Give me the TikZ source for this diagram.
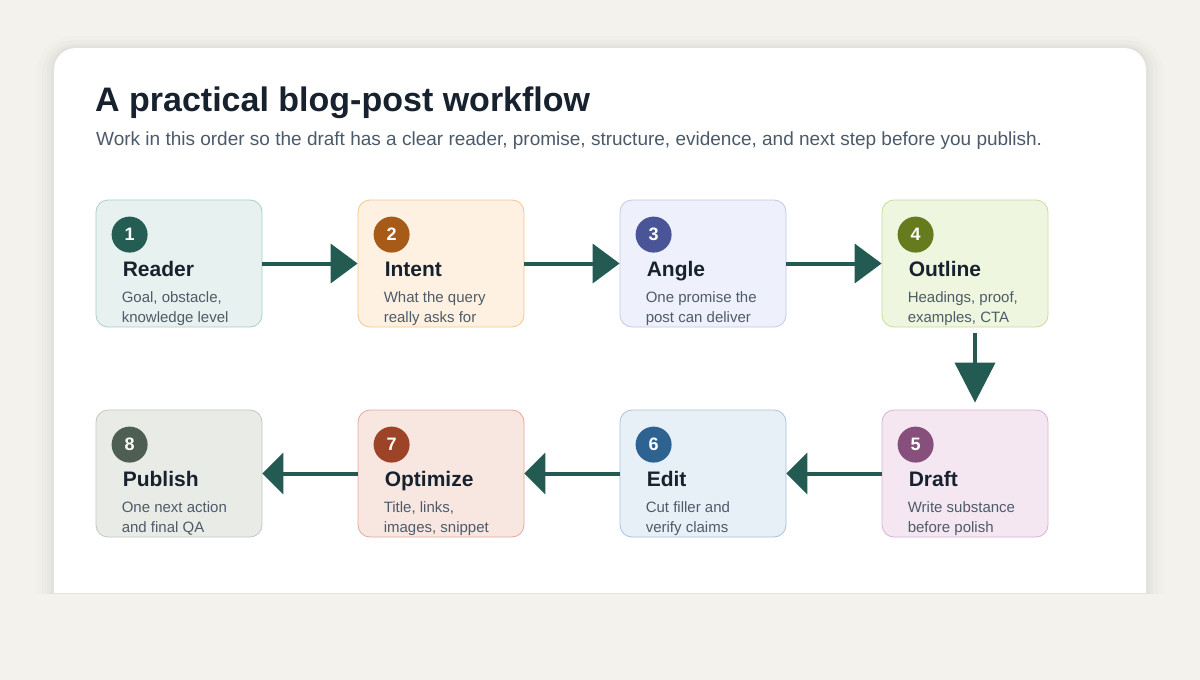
\documentclass[tikz,border=0pt]{standalone}
\usepackage{fontspec}
\setmainfont{Liberation Sans}
\usepackage{xcolor}
\usetikzlibrary{arrows.meta, calc, positioning}

\definecolor{pagebg}{HTML}{F3F2ED}
\definecolor{ink}{HTML}{17222E}
\definecolor{subink}{HTML}{4B5A6A}
\definecolor{descink}{HTML}{4E5B68}
\definecolor{flow}{HTML}{235B53}
\definecolor{fillA}{HTML}{E7F1EF}\definecolor{lineA}{HTML}{A9D0C7}\definecolor{dotA}{HTML}{245D53}
\definecolor{fillB}{HTML}{FEF1E1}\definecolor{lineB}{HTML}{F2C690}\definecolor{dotB}{HTML}{A65B18}
\definecolor{fillC}{HTML}{EEF0FC}\definecolor{lineC}{HTML}{C3C8EA}\definecolor{dotC}{HTML}{4A5597}
\definecolor{fillD}{HTML}{EEF6DF}\definecolor{lineD}{HTML}{C8DC9C}\definecolor{dotD}{HTML}{667B1E}
\definecolor{fillE}{HTML}{F5E7F2}\definecolor{lineE}{HTML}{DBB2D4}\definecolor{dotE}{HTML}{874F7B}
\definecolor{fillF}{HTML}{E7EFF7}\definecolor{lineF}{HTML}{ABC3DA}\definecolor{dotF}{HTML}{2D6291}
\definecolor{fillG}{HTML}{F8E6E1}\definecolor{lineG}{HTML}{E2AA97}\definecolor{dotG}{HTML}{9D4428}
\definecolor{fillH}{HTML}{E9EBE7}\definecolor{lineH}{HTML}{C2C8C0}\definecolor{dotH}{HTML}{4F5E52}

\tikzset{
  stepbox/.style={rounded corners=12pt, line width=0.8pt, minimum width=166pt, minimum height=127pt, inner sep=0pt},
  stepnum/.style={circle, minimum size=36pt, inner sep=0pt, text=white, font=\fontsize{18}{20}\selectfont\bfseries},
  steptitle/.style={anchor=base west, inner sep=0pt, text=ink, font=\fontsize{21}{24}\selectfont\bfseries},
  stepdesc/.style={anchor=base west, inner sep=0pt, align=left, text=descink, font=\fontsize{15}{20}\selectfont},
  flowarrow/.style={draw=flow, line width=4pt, -{Triangle[length=27pt, width=39pt]}},
  backarrow/.style={flowarrow, -{Triangle[length=21pt, width=41pt]}},
  downarrow/.style={flowarrow, -{Triangle[length=40pt, width=40pt]}}
}

% one workflow card: name, centre, colour letter, number, title, two lines
\newcommand{\wfstep}[7]{%
  \node[stepbox, fill=fill#3, draw=line#3] (#1) at (#2) {};
  \node[stepnum, fill=dot#3] (#1-num) at ($(#1.north west)+(34,35)$) {#4};
  \node[steptitle] (#1-title) at ($(#1.north west)+(27,77)$) {#5};
  \node[stepdesc] (#1-desc) at ($(#1.north west)+(26,123)$) {#6\\#7};
}

\begin{document}
\begin{tikzpicture}[x=1pt, y=-1pt]
  \useasboundingbox (0,0) rectangle (1200,680);
  \fill[pagebg] (0,0) rectangle (1200,680);
  % card with soft side shadow, cut off at the bottom
  \begin{scope}
    \clip (0,0) rectangle (1200,593);
    \fill[black, opacity=0.012, rounded corners=38pt] (36,36) rectangle (1164,640);
    \fill[black, opacity=0.015, rounded corners=32pt] (42,40) rectangle (1158,640);
    \fill[black, opacity=0.02, rounded corners=27pt] (47,44) rectangle (1153,640);
    \fill[black, opacity=0.02, rounded corners=24pt] (51,46) rectangle (1149,640);
  \end{scope}
  \fill[white] (54,593) [rounded corners=22pt] -- (54,48) -- (1146,48) [sharp corners] -- (1146,593) -- cycle;

  \node[anchor=base west, inner sep=0pt, text=ink, font=\fontsize{34}{40}\selectfont\bfseries] (title) at (95,111) {A practical blog-post workflow};
  \node[anchor=base west, inner sep=0pt, text=subink, font=\fontsize{19}{22}\selectfont] (subtitle) at (96,145) {Work in this order so the draft has a clear reader, promise, structure, evidence, and next step before you publish.};

  \wfstep{reader}{179,263.5}{A}{1}{Reader}{Goal, obstacle,}{knowledge level}
  \wfstep{intent}{441,263.5}{B}{2}{Intent}{What the query}{really asks for}
  \wfstep{angle}{703,263.5}{C}{3}{Angle}{One promise the}{post can deliver}
  \wfstep{outline}{965,263.5}{D}{4}{Outline}{Headings, proof,}{examples, CTA}
  \wfstep{draft}{965,473.5}{E}{5}{Draft}{Write substance}{before polish}
  \wfstep{edit}{703,473.5}{F}{6}{Edit}{Cut filler and}{verify claims}
  \wfstep{optimize}{441,473.5}{G}{7}{Optimize}{Title, links,}{images, snippet}
  \wfstep{publish}{179,473.5}{H}{8}{Publish}{One next action}{and final QA}

  \draw[flowarrow] (reader.east) -- (intent.west);
  \draw[flowarrow] (intent.east) -- (angle.west);
  \draw[flowarrow] (angle.east) -- (outline.west);
  \draw[downarrow, shorten <=6pt, shorten >=7pt] ([xshift=10pt]outline.south) -- ([xshift=10pt]draft.north);
  \draw[backarrow] (draft.west) -- (edit.east);
  \draw[backarrow] (edit.west) -- (optimize.east);
  \draw[backarrow] (optimize.west) -- (publish.east);
\end{tikzpicture}
\end{document}
